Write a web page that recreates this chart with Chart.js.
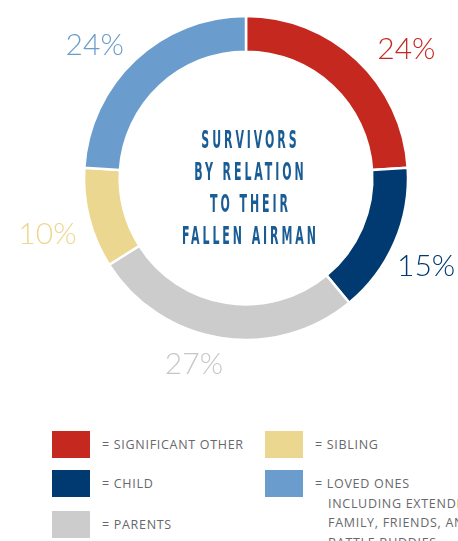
<!DOCTYPE html>
<html>
<head>
<meta charset="utf-8">
<script src="https://cdn.jsdelivr.net/npm/chart.js@4/dist/chart.umd.min.js"></script>
<style>
  body { margin: 0; background: #fff; width: 458px; height: 541px; overflow: hidden; position: relative; }
  #wrap { position: absolute; left: 0; top: 0; width: 458px; height: 400px; }
  .sw { position: absolute; width: 38px; height: 27px; }
  .lbl { position: absolute; font-family: "Open Sans", "Noto Sans", sans-serif; font-size: 12.5px;
         letter-spacing: 0.7px; color: #67686b; line-height: 19.5px; white-space: nowrap; }
</style>
</head>
<body>
<div id="wrap"><canvas id="myChart" width="458" height="400"></canvas></div>
<div id="legend"></div>
<script>
const categories = [
    'SIGNIFICANT OTHER',
    'CHILD',
    'PARENTS',
    'SIBLING',
    'LOVED ONES',
];

const values = [24, 15, 27, 10, 24];

const colors = ['#c4281f', '#003a70', '#cbcccb', '#ecd790', '#6a9dcd'];
const labelColors = ['#c4281f', '#003a70', '#c6c7c7', '#ecd790', '#6a9dcd'];

const titleLines = ['SURVIVORS', 'BY RELATION', 'TO THEIR', 'FALLEN AIRMAN'];

// extra lines under "loved ones"
const lovedOnesMore = ['INCLUDING EXTENDED', 'FAMILY, FRIENDS, AND', 'BATTLE BUDDIES'];

// small nudges so the % labels sit where they do in the original
const nudge = [[20, 21], [-8, 7], [-20, -16], [0, 5], [-11, 17]];

const outerLabels = {
    id: 'outerLabels',
    afterDatasetsDraw(chart) {
        const ctx = chart.ctx;
        const meta = chart.getDatasetMeta(0);
        ctx.save();
        ctx.font = '300 30px Lato, "Open Sans", sans-serif';
        ctx.textAlign = 'center';
        ctx.textBaseline = 'middle';
        meta.data.forEach((arc, i) => {
            const a = (arc.startAngle + arc.endAngle) / 2;
            const r = arc.outerRadius + 43;
            ctx.fillStyle = labelColors[i];
            ctx.fillText(values[i] + '%', arc.x + Math.cos(a) * r + nudge[i][0], arc.y + Math.sin(a) * r + nudge[i][1]);
        });
        ctx.restore();
    }
};

// condensed title in the hole, squeezed to the width of the original
const centerTitle = {
    id: 'centerTitle',
    afterDraw(chart) {
        const ctx = chart.ctx;
        const arc = chart.getDatasetMeta(0).data[0];
        ctx.save();
        ctx.font = 'bold 25px "DejaVu Sans Condensed", "DejaVu Sans", sans-serif';
        ctx.letterSpacing = '6px';
        ctx.fillStyle = '#1a5d95';
        ctx.textAlign = 'center';
        ctx.textBaseline = 'middle';
        const w = ctx.measureText('FALLEN AIRMAN').width - 6;
        const sx = 134 / w;
        ctx.translate(arc.x + 3, arc.y);
        ctx.scale(sx, 1);
        titleLines.forEach((t, i) => {
            ctx.fillText(t, 3, -37 + i * 32);
        });
        ctx.restore();
    }
};

const data = {
    labels: categories,
    datasets: [{
        data: values,
        backgroundColor: colors,
        borderColor: '#ffffff',
        borderWidth: 2.5,
    }]
};

const config = {
    type: 'doughnut',
    data: data,
    options: {
        responsive: false,
        animation: false,
        radius: 162,
        cutout: '78%',
        layout: { padding: { left: 84, right: 50, top: 16, bottom: 60 } },
        plugins: {
            legend: { display: false },
            tooltip: { enabled: false },
        }
    },
    plugins: [outerLabels, centerTitle]
};

new Chart(document.getElementById('myChart'), config);

// legend, two columns
const legendPos = [[52, 431], [52, 470], [52, 511], [265, 431], [265, 470]];
const legend = document.getElementById('legend');
categories.forEach((c, i) => {
    const [x, y] = legendPos[i];
    const sw = document.createElement('div');
    sw.className = 'sw';
    sw.style.left = x + 'px';
    sw.style.top = y + 'px';
    sw.style.background = colors[i];
    legend.appendChild(sw);
    const lb = document.createElement('div');
    lb.className = 'lbl';
    lb.style.left = (x + 50) + 'px';
    lb.style.top = (y + 4) + 'px';
    let html = '= ' + c;
    if (i === 4) {
        html += lovedOnesMore.map(t => '<br><span style="padding-left:13px">' + t + '</span>').join('');
    }
    lb.innerHTML = html;
    legend.appendChild(lb);
});
</script>
</body>
</html>
